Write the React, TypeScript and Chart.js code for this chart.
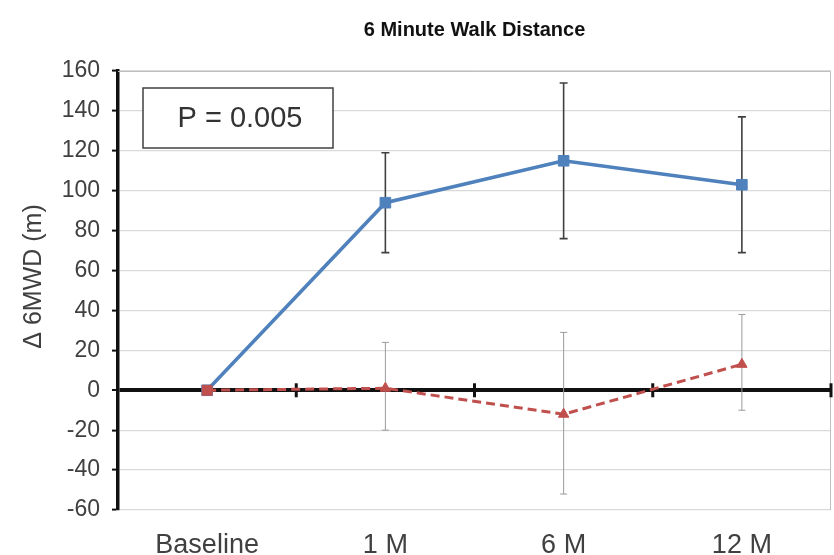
import React, { useEffect, useRef } from "react";
import { Chart, registerables } from "chart.js";

Chart.register(...registerables);

const categories = ["Baseline", "1 M", "6 M", "12 M"];
const treatMean = [0, 94, 115, 103];
const treatLow = [null, 69, 76, 69];
const treatHigh = [null, 119, 154, 137];
const ctrlMean = [0, 1, -12, 13];
const ctrlLow = [null, -20, -52, -10];
const ctrlHigh = [null, 24, 29, 38];
const pLabel = "P = 0.005";
const titleText = "6 Minute Walk Distance";
const yTitle = "Δ 6MWD (m)";

const FONT = "'Liberation Sans', Arial, sans-serif";

const decorPlugin = {
  id: "decor",
  beforeDatasetsDraw(chart: any) {
    const { ctx, chartArea, scales } = chart;
    const x = scales.x;
    const y = scales.y;
    ctx.save();
    // top & right border
    ctx.strokeStyle = "#bfbfbf";
    ctx.lineWidth = 1;
    ctx.beginPath();
    ctx.moveTo(chartArea.left, chartArea.top + 0.5);
    ctx.lineTo(chartArea.right - 0.5, chartArea.top + 0.5);
    ctx.lineTo(chartArea.right - 0.5, chartArea.bottom);
    ctx.stroke();
    // category tick marks on zero line
    const y0 = y.getPixelForValue(0);
    ctx.strokeStyle = "#111";
    ctx.lineWidth = 3;
    const n = categories.length;
    for (let i = 0; i < n; i++) {
      const cx = x.getPixelForTick(i);
      const nx = i < n - 1 ? x.getPixelForTick(i + 1) : cx + (cx - x.getPixelForTick(i - 1));
      const bx = (cx + nx) / 2;
      ctx.beginPath();
      ctx.moveTo(bx, y0 - 7);
      ctx.lineTo(bx, y0 + 7);
      ctx.stroke();
    }
    // error bars
    const drawErr = (lo: any[], hi: any[], color: string, w: number, cap: number) => {
      ctx.strokeStyle = color;
      ctx.lineWidth = w;
      for (let i = 0; i < lo.length; i++) {
        if (lo[i] == null || hi[i] == null) continue;
        const px = x.getPixelForValue(i);
        const pl = y.getPixelForValue(lo[i]);
        const ph = y.getPixelForValue(hi[i]);
        ctx.beginPath();
        ctx.moveTo(px, pl);
        ctx.lineTo(px, ph);
        ctx.moveTo(px - cap, pl);
        ctx.lineTo(px + cap, pl);
        ctx.moveTo(px - cap, ph);
        ctx.lineTo(px + cap, ph);
        ctx.stroke();
      }
    };
    drawErr(treatLow, treatHigh, "#404040", 1.6, 4);
    drawErr(ctrlLow, ctrlHigh, "#9a9a9a", 1, 3.5);
    ctx.restore();
  },
  afterDraw(chart: any) {
    const { ctx, chartArea } = chart;
    ctx.save();
    // P-value box
    const bx = chartArea.left + 25;
    const by = chartArea.top + 17;
    const bw = 190;
    const bh = 60;
    ctx.fillStyle = "#ffffff";
    ctx.fillRect(bx, by, bw, bh);
    ctx.strokeStyle = "#404040";
    ctx.lineWidth = 1.5;
    ctx.strokeRect(bx, by, bw, bh);
    ctx.fillStyle = "#333";
    ctx.font = `29px ${FONT}`;
    ctx.textAlign = "center";
    ctx.textBaseline = "middle";
    ctx.fillText(pLabel, bx + bw / 2 + 2, by + bh / 2 + 1);
    // y-axis title
    ctx.translate(chartArea.left - 84, (chartArea.top + chartArea.bottom) / 2 - 14);
    ctx.rotate(-Math.PI / 2);
    ctx.fillStyle = "#404040";
    ctx.font = `25px ${FONT}`;
    ctx.fillText(yTitle, 0, 0);
    ctx.restore();
  },
};

export default function App() {
  const ref = useRef<HTMLCanvasElement>(null);
  useEffect(() => {
    if (!ref.current) return;
    const chart = new Chart(ref.current, {
      type: "line",
      data: {
        labels: categories,
        datasets: [
          {
            label: "Control",
            data: ctrlMean,
            borderColor: "#C0504D",
            backgroundColor: "#C0504D",
            borderWidth: 3,
            borderDash: [9, 5],
            pointStyle: ["rect", "triangle", "triangle", "triangle"] as any,
            pointRadius: [7, 6, 6, 6] as any,
            pointBorderWidth: 1,
            order: 0,
          },
          {
            label: "Treatment",
            data: treatMean,
            borderColor: "#4F81BD",
            backgroundColor: "#4F81BD",
            borderWidth: 3.5,
            pointStyle: "rect",
            pointRadius: 7.5,
            pointBorderWidth: 1,
            order: 1,
          },
        ],
      },
      options: {
        animation: false,
        responsive: false,
        maintainAspectRatio: false,
        layout: { autoPadding: false, padding: { left: 0, right: 3, top: 0, bottom: 0 } },
        plugins: {
          legend: { display: false },
          tooltip: { enabled: false },
          title: {
            display: true,
            text: titleText,
            fullSize: false,
            color: "#111",
            font: { family: FONT, size: 20, weight: "bold" },
            padding: { top: 18, bottom: 29 },
          },
        },
        scales: {
          x: {
            type: "category",
            offset: true,
            grid: { display: false },
            border: { display: false },
            ticks: {
              color: "#404040",
              font: { family: FONT, size: 27 },
              padding: 11,
            },
            afterFit(scale: any) {
              scale.height = 45;
              scale.paddingLeft = 0;
              scale.paddingRight = 0;
            },
          },
          y: {
            min: -60,
            max: 160,
            ticks: {
              stepSize: 20,
              color: "#404040",
              font: { family: FONT, size: 23 },
              padding: 12,
            },
            grid: {
              color: (c: any) => (c.tick && c.tick.value === 0 ? "#111" : "#d9d9d9"),
              lineWidth: (c: any) => (c.tick && c.tick.value === 0 ? 4 : 1.2),
              tickColor: "#111",
              tickLength: 6,
              tickWidth: 2,
            },
            border: { color: "#111", width: 3.5 },
            title: { display: false },
            afterFit(scale: any) {
              scale.width = 118;
            },
          },
        },
      },
      plugins: [decorPlugin],
    });
    return () => chart.destroy();
  }, []);
  return (
    <div style={{ position: "absolute", left: 0, top: 0, width: 834, height: 555, background: "#fff" }}>
      <canvas ref={ref} width={834} height={555} style={{ width: 834, height: 555 }} />
    </div>
  );
}
